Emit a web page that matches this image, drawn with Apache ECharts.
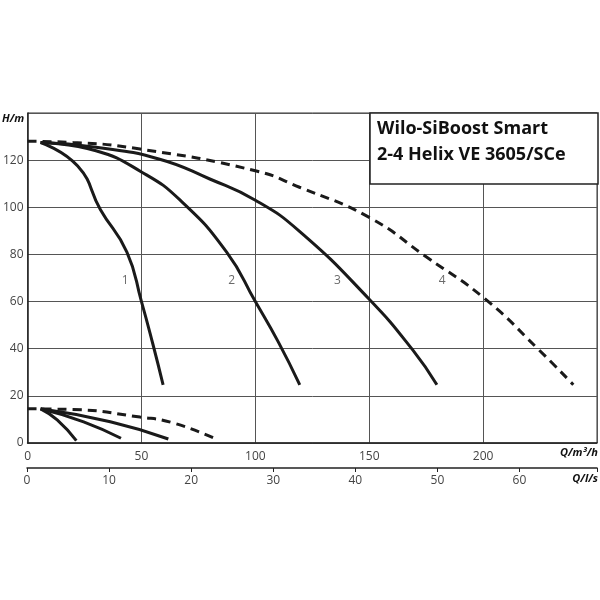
<!DOCTYPE html>
<html>
<head>
<meta charset="utf-8">
<script src="https://cdn.jsdelivr.net/npm/echarts@6/dist/echarts.min.js"></script>
<style>html,body{margin:0;padding:0;background:#fff}#chart{width:600px;height:600px}</style>
</head>
<body>
<div id="chart"></div>
<script>
// Q in m3/h, H in m
var curve1 = [[5.7, 127.5], [22, 117.5], [32, 99], [43.6, 81], [50, 60], [55, 42], [59.5, 24.7]]
var curve2 = [[5.7, 127.5], [30, 124], [50, 115], [67, 103], [87.4, 81], [100, 60], [110, 43], [119.5, 24.7]]
var curve3 = [[5.7, 127.5], [30, 125.5], [58, 120.4], [80, 112], [100, 103], [119.4, 89.8], [150, 61], [169, 39.6], [179.7, 24.7]]
var curve4 = [[0, 128], [20, 127.5], [49.4, 124.7], [100, 115.5], [119.4, 108.5], [150, 95.7], [175, 79], [201, 61], [224, 40], [239.6, 24.7]]
var low1 = [[5.7, 14.5], [13, 9.8], [21.4, 1]]
var low2 = [[5.7, 14.5], [24.6, 9], [41, 2]]
var low3 = [[5.7, 14.5], [36.3, 9], [61.8, 1.7]]
var low4 = [[0, 14.5], [20, 14.2], [49.4, 11], [64, 8.5], [83.7, 1.3]]
var curveLabels = [['1', 42.8, 69], ['2', 89.6, 69], ['3', 136, 69], ['4', 182, 69]]

var chart = echarts.init(document.getElementById('chart'))
var font = '"Open Sans", sans-serif'

function line(data, dashed) {
  return {
    type: 'line', data: data, smooth: true, symbol: 'none',
    xAxisIndex: 0, yAxisIndex: 0,
    lineStyle: {color: '#1a1a1a', width: 3, type: dashed ? [9, 6] : 'solid'}
  }
}

var option = {
  backgroundColor: '#fff',
  animation: false,
  grid: [
    {left: 27, right: 2, top: 113, bottom: 157, show: true, borderColor: '#333', borderWidth: 1},
    {left: 27, right: 2, top: 467, height: 1}
  ],
  xAxis: [
    {
      gridIndex: 0, type: 'value', min: 0, max: 250, interval: 50,
      axisLine: {lineStyle: {color: '#222', width: 1.5}},
      axisTick: {show: false},
      axisLabel: {color: '#444', fontFamily: font, fontSize: 12, margin: 8,
        formatter: function(v) { return v === 250 ? '' : v }},
      splitLine: {lineStyle: {color: '#555', width: 1}}
    },
    {
      gridIndex: 1, type: 'value', min: 0, max: 250 / 3.6, interval: 10,
      axisLine: {onZero: false, lineStyle: {color: '#222', width: 1.5}},
      axisTick: {show: true, inside: false, length: 4, lineStyle: {color: '#222'}},
      axisLabel: {color: '#444', fontFamily: font, fontSize: 12, margin: 7,
        formatter: function(v) { return v > 65 ? '' : v }},
      splitLine: {show: false}
    }
  ],
  yAxis: [
    {
      gridIndex: 0, type: 'value', min: 0, max: 140, interval: 20,
      axisLine: {show: true, lineStyle: {color: '#222', width: 1.5}},
      axisTick: {show: false},
      axisLabel: {color: '#444', fontFamily: font, fontSize: 12, margin: 4,
        formatter: function(v) { return v === 140 ? '' : v }},
      splitLine: {lineStyle: {color: '#555', width: 1}}
    },
    {gridIndex: 1, type: 'value', show: false, min: 0, max: 1}
  ],
  graphic: [
    {type: 'rect', shape: {x: 370, y: 113, width: 228, height: 71},
      style: {fill: '#fff', stroke: '#222', lineWidth: 1.5}, z: 10},
    {type: 'text', left: 377, top: 116, z: 11,
      style: {text: 'Wilo-SiBoost Smart\n2-4 Helix VE 3605/SCe', fill: '#111',
        font: 'bold 18px ' + font, lineHeight: 26}},
    {type: 'text', left: 2, top: 113, z: 11,
      style: {text: 'H/m', fill: '#111', font: 'italic bold 11px ' + font}},
    {type: 'text', right: 2, top: 447, z: 11,
      style: {text: 'Q/m³/h', fill: '#111', font: 'italic bold 11px ' + font}},
    {type: 'text', right: 2, top: 473, z: 11,
      style: {text: 'Q/l/s', fill: '#111', font: 'italic bold 11px ' + font}}
  ],
  series: [
    line(curve1), line(curve2), line(curve3), line(curve4, true),
    line(low1), line(low2), line(low3), line(low4, true),
    {
      type: 'scatter', symbolSize: 0, xAxisIndex: 0, yAxisIndex: 0,
      data: curveLabels.map(function(l) { return {name: l[0], value: [l[1], l[2]]} }),
      label: {show: true, position: 'inside', formatter: '{b}', color: '#444',
        fontFamily: font, fontSize: 12}
    }
  ]
}
chart.setOption(option)
</script>
</body>
</html>
